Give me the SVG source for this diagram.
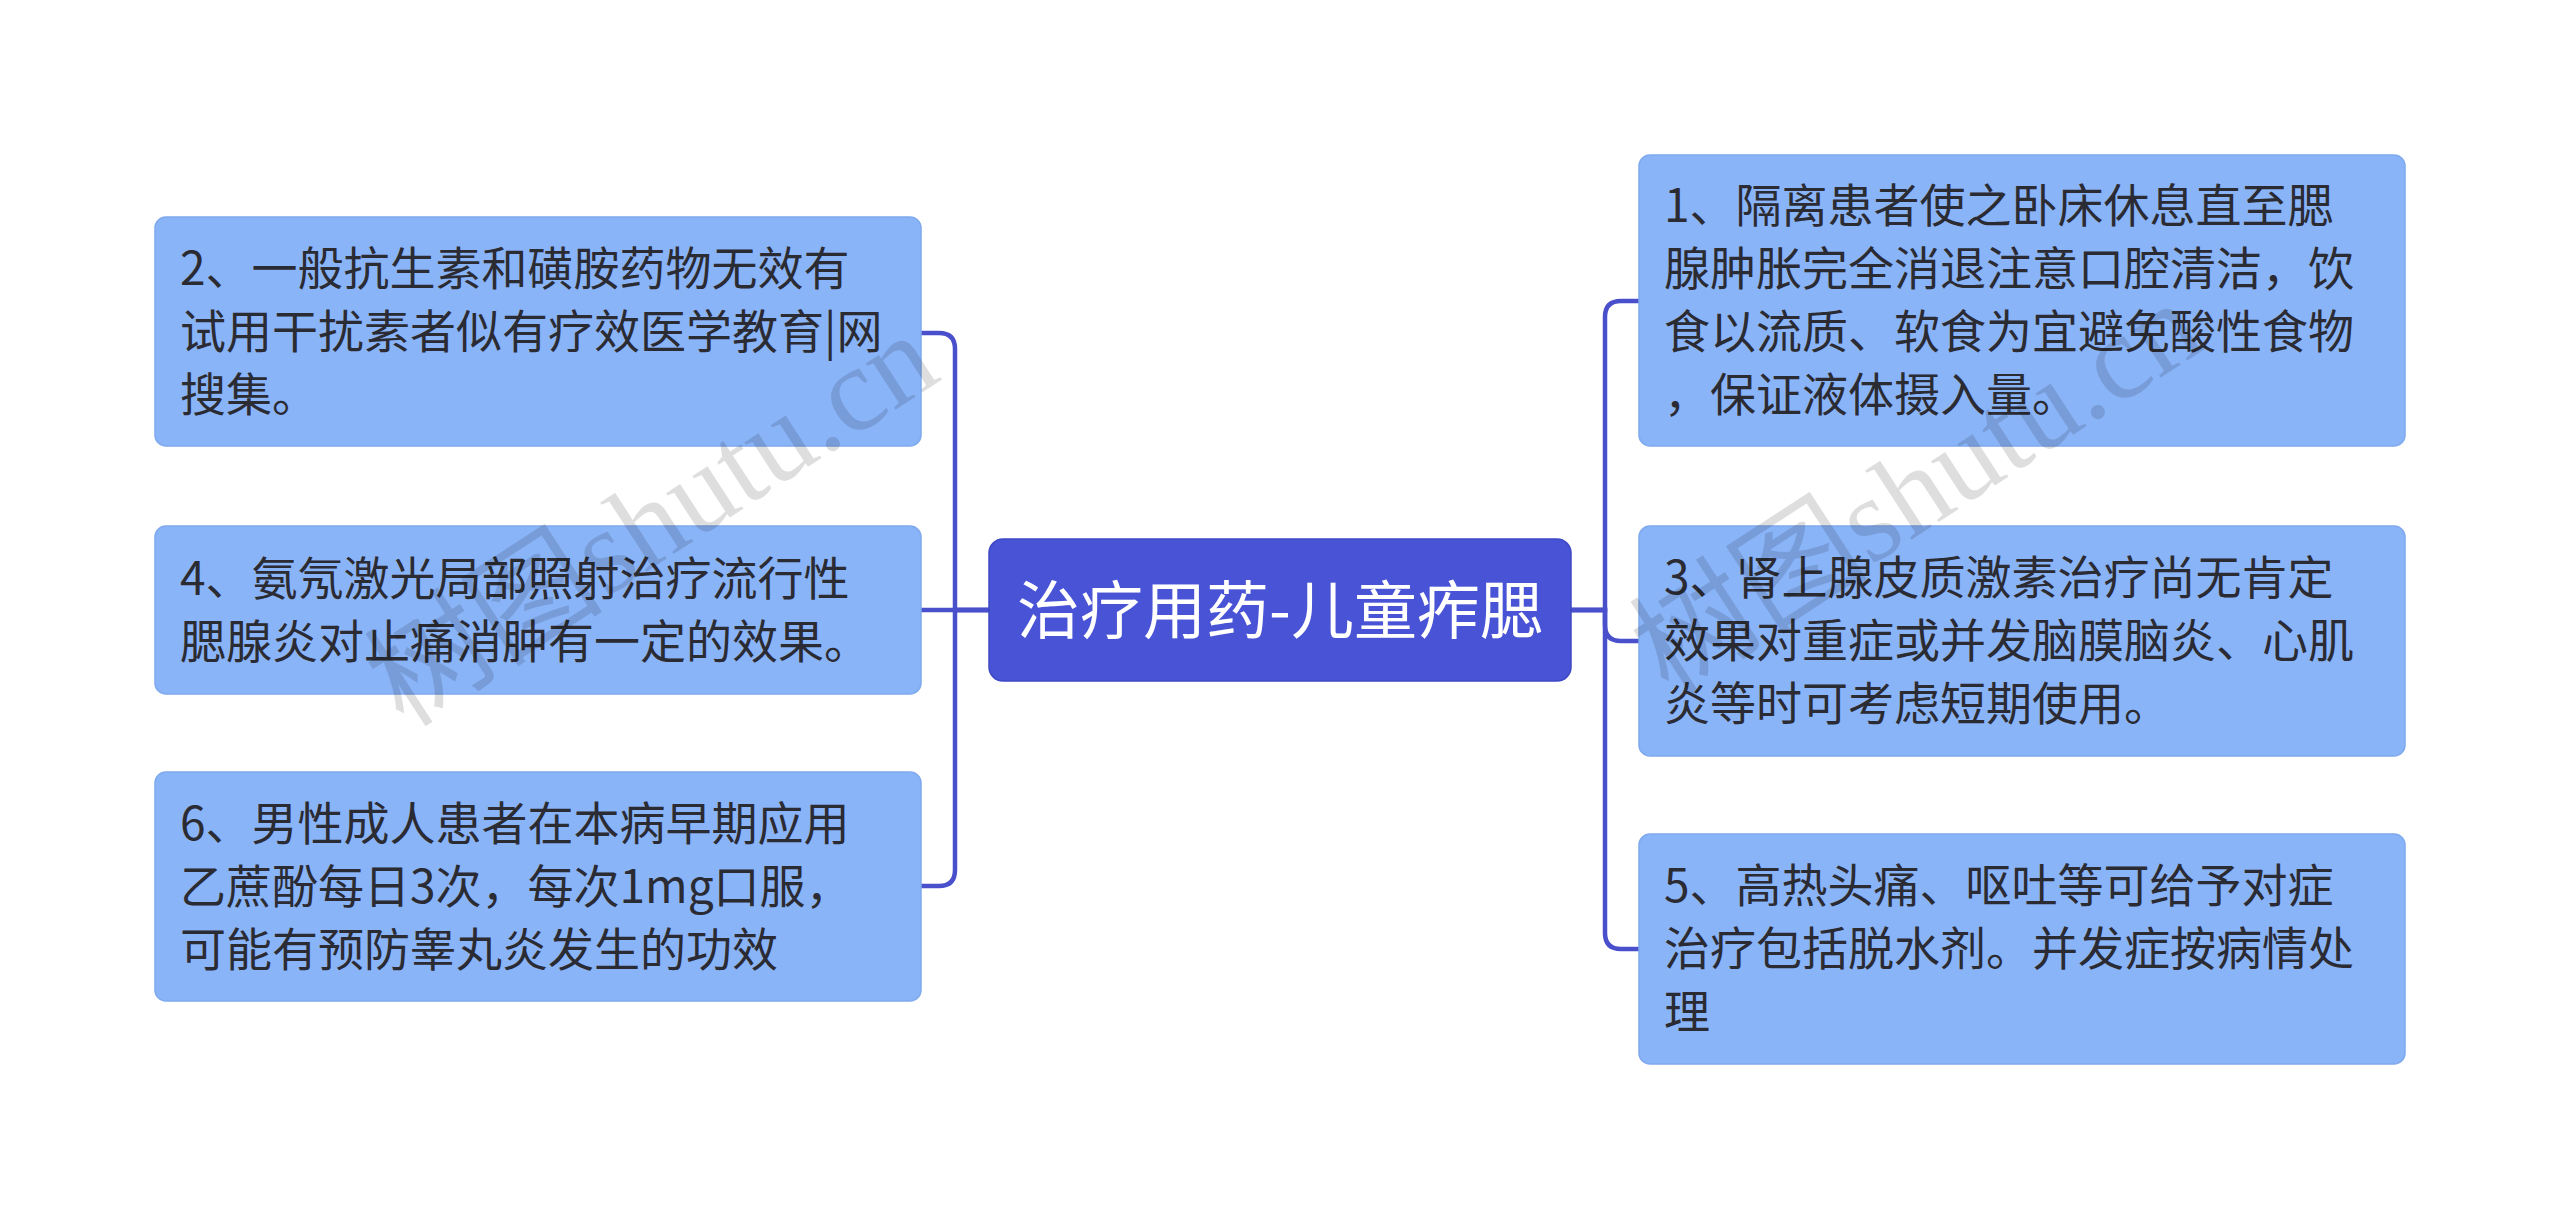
<svg xmlns="http://www.w3.org/2000/svg" width="2560" height="1220" viewBox="0 0 2560 1220">
<style>
.n{fill:#8ab4f8;stroke:#7fa9ee;stroke-width:1.5}
.t{font-family:"Noto Sans CJK SC","Noto Sans",sans-serif;font-size:46px;fill:#2b2b33}
.c{fill:#4953d6;stroke:#3f48c4;stroke-width:1.5}
.ct{font-family:"Noto Sans CJK SC","Noto Sans",sans-serif;font-size:63px;fill:#ffffff}
.e{fill:none;stroke:#4a50cc;stroke-width:4.5}
.w{font-family:"Liberation Serif","Noto Sans CJK SC",serif;font-size:120px;fill:#000;fill-opacity:0.13}
</style>
<rect width="2560" height="1220" fill="#ffffff"/>
<g id="connectors">
<path class="e" d="M989 610 H955 V349 Q955 333 939 333 H921"/>
<path class="e" d="M989 610 H921"/>
<path class="e" d="M989 610 H955 V870 Q955 886 939 886 H921"/>
<path class="e" d="M1571 610 H1605 V317 Q1605 301 1621 301 H1639"/>
<path class="e" d="M1571 610 H1605 V625 Q1605 641 1621 641 H1639"/>
<path class="e" d="M1571 610 H1605 V933 Q1605 949 1621 949 H1639"/>
</g>
<g id="center">
<rect class="c" x="989" y="539" width="582" height="142" rx="14"/>
<text class="ct" x="1280" y="633" text-anchor="middle">治疗用药-儿童痄腮</text>
</g>
<g id="node-l1">
<rect class="n" x="155" y="217" width="766" height="229" rx="11"/>
<text class="t" x="180" y="285">2、一般抗生素和磺胺药物无效有</text>
<text class="t" x="180" y="348">试用干扰素者似有疗效医学教育|网</text>
<text class="t" x="180" y="411">搜集。</text>
</g>
<g id="node-l2">
<rect class="n" x="155" y="526" width="766" height="168" rx="11"/>
<text class="t" x="180" y="595">4、氨氖激光局部照射治疗流行性</text>
<text class="t" x="180" y="658">腮腺炎对止痛消肿有一定的效果。</text>
</g>
<g id="node-l3">
<rect class="n" x="155" y="772" width="766" height="229" rx="11"/>
<text class="t" x="180" y="840">6、男性成人患者在本病早期应用</text>
<text class="t" x="180" y="903">乙蔗酚每日3次，每次1mg口服，</text>
<text class="t" x="180" y="966">可能有预防睾丸炎发生的功效</text>
</g>
<g id="node-r1">
<rect class="n" x="1639" y="155" width="766" height="291" rx="11"/>
<text class="t" x="1664" y="222">1、隔离患者使之卧床休息直至腮</text>
<text class="t" x="1664" y="285">腺肿胀完全消退注意口腔清洁，饮</text>
<text class="t" x="1664" y="348">食以流质、软食为宜避免酸性食物</text>
<text class="t" x="1664" y="411">，保证液体摄入量。</text>
</g>
<g id="node-r2">
<rect class="n" x="1639" y="526" width="766" height="230" rx="11"/>
<text class="t" x="1664" y="594">3、肾上腺皮质激素治疗尚无肯定</text>
<text class="t" x="1664" y="657">效果对重症或并发脑膜脑炎、心肌</text>
<text class="t" x="1664" y="720">炎等时可考虑短期使用。</text>
</g>
<g id="node-r3">
<rect class="n" x="1639" y="834" width="766" height="230" rx="11"/>
<text class="t" x="1664" y="902">5、高热头痛、呕吐等可给予对症</text>
<text class="t" x="1664" y="965">治疗包括脱水剂。并发症按病情处</text>
<text class="t" x="1664" y="1028">理</text>
</g>
<g id="watermark">
<text class="w" x="653" y="560" text-anchor="middle" transform="rotate(-33 653 522)">树图shutu.cn</text>
<text class="w" x="1918" y="528" text-anchor="middle" transform="rotate(-33 1918 490)">树图shutu.cn</text>
</g>
</svg>
